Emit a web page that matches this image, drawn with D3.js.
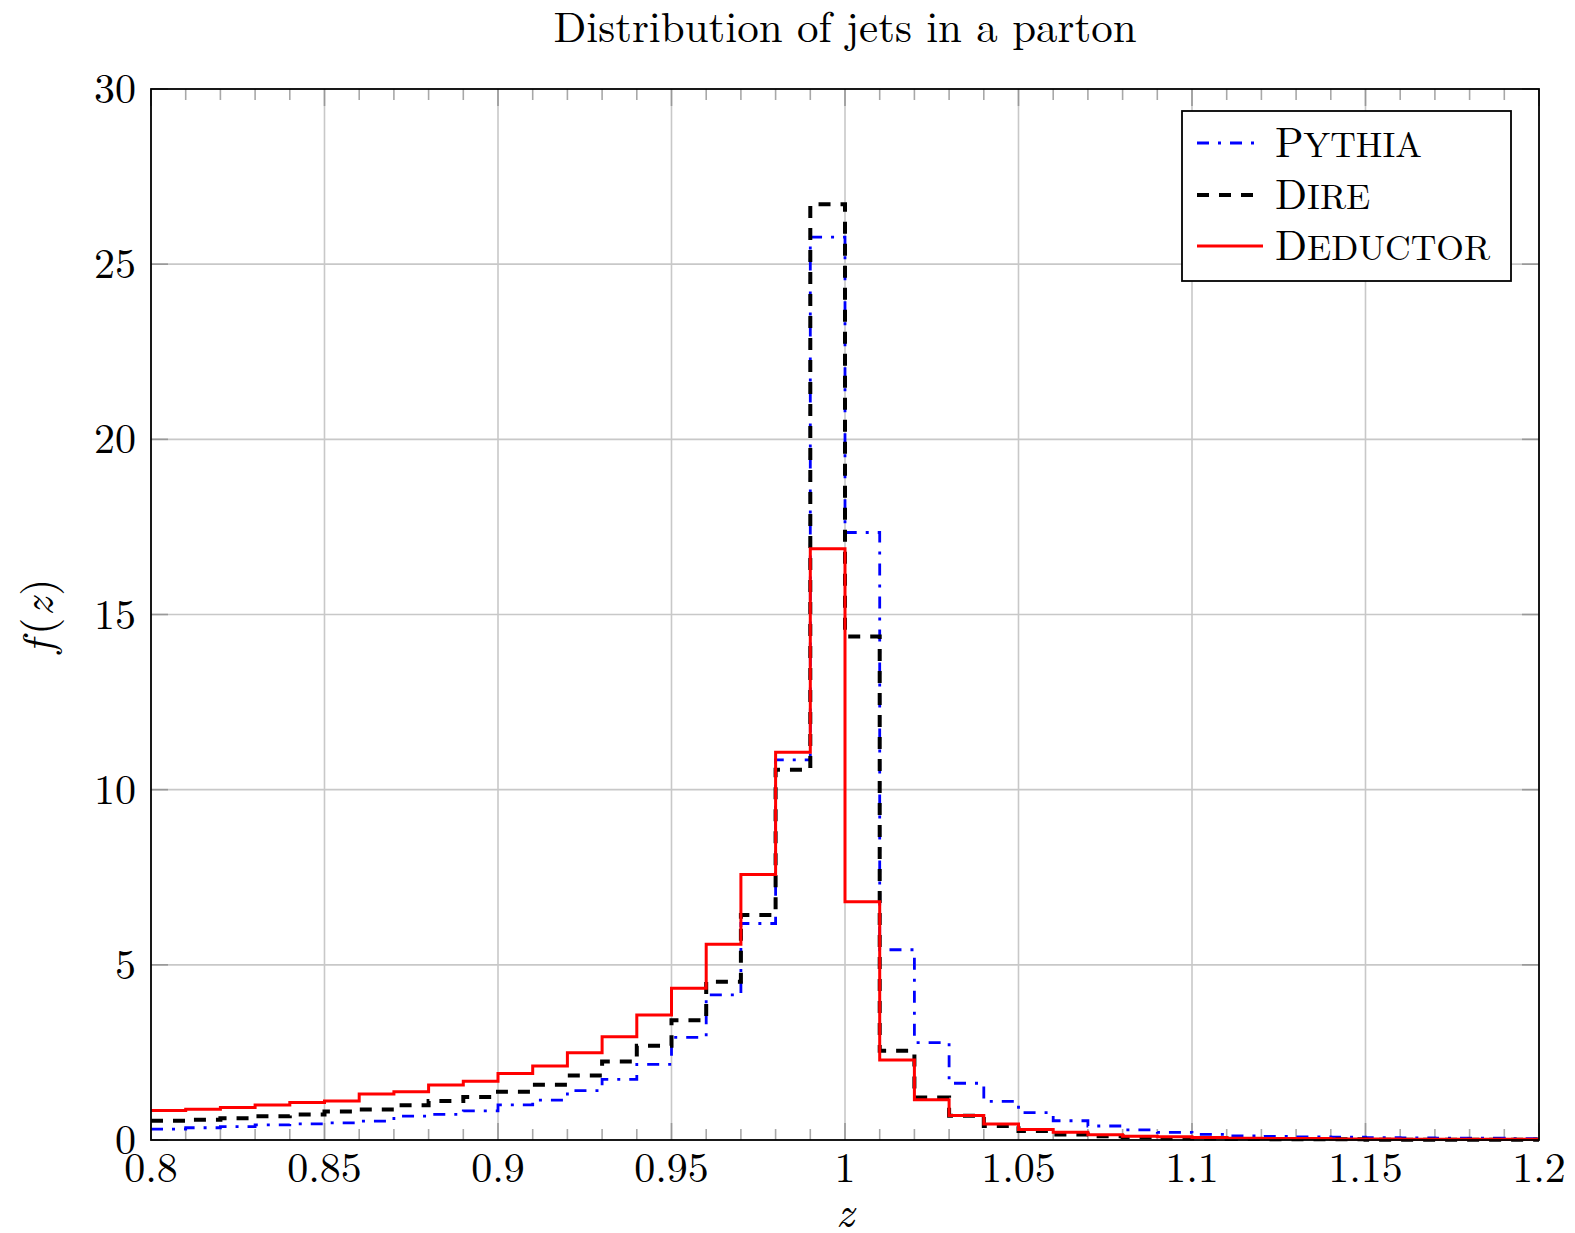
<!DOCTYPE html>
<html>
<head>
<meta charset="utf-8">
<script src="https://cdn.jsdelivr.net/npm/d3@7"></script>
<style>
  html, body { margin: 0; padding: 0; background: #fff; }
  svg { display: block; }
  text { font-family: "Latin Modern Roman", "CMU Serif", "Liberation Serif", serif; fill: #000; }
</style>
</head>
<body>
<svg id="chart" width="1575" height="1233"></svg>
<script>
// ---- data ----
const title = "Distribution of jets in a parton";
const xLabel = "z";
const binStarts = [0.80,0.81,0.82,0.83,0.84,0.85,0.86,0.87,0.88,0.89,
                   0.90,0.91,0.92,0.93,0.94,0.95,0.96,0.97,0.98,0.99,
                   1.00,1.01,1.02,1.03,1.04,1.05,1.06,1.07,1.08,1.09,
                   1.10,1.11,1.12,1.13,1.14,1.15,1.16,1.17,1.18,1.19];
const binEnd = 1.20;
const pythia = [0.31,0.35,0.38,0.43,0.46,0.49,0.54,0.68,0.73,0.83,
                1.00,1.14,1.41,1.73,2.16,2.93,4.14,6.18,10.85,25.77,
                17.34,5.43,2.78,1.62,1.10,0.78,0.55,0.40,0.29,0.22,
                0.16,0.12,0.10,0.09,0.08,0.07,0.06,0.05,0.05,0.04];
const dire = [0.55,0.58,0.62,0.68,0.73,0.81,0.87,0.99,1.11,1.23,
              1.38,1.58,1.84,2.24,2.69,3.42,4.52,6.42,10.57,26.71,
              14.37,2.55,1.21,0.69,0.40,0.26,0.16,0.11,0.08,0.05,
              0.04,0.03,0.02,0.02,0.02,0.01,0.01,0.01,0.01,0.01];
const deductor = [0.84,0.88,0.93,1.00,1.07,1.11,1.31,1.38,1.57,1.68,
                  1.90,2.11,2.49,2.95,3.57,4.33,5.59,7.58,11.07,16.88,
                  6.80,2.28,1.15,0.70,0.46,0.30,0.22,0.15,0.11,0.09,
                  0.07,0.05,0.04,0.04,0.03,0.03,0.02,0.02,0.02,0.02];
const seriesNames = ["Pythia", "Dire", "Deductor"];
const xTicks = [0.8,0.85,0.9,0.95,1,1.05,1.1,1.15,1.2];
const xTickLabels = ["0.8","0.85","0.9","0.95","1","1.05","1.1","1.15","1.2"];
const xMinorTicks = binStarts;
const yTicks = [0,5,10,15,20,25,30];
const yTickLabels = ["0","5","10","15","20","25","30"];

// ---- layout ----
const L = 151, R = 1539, T = 89, B = 1140;
const FS = 42;
const svg = d3.select("#chart");
const x = d3.scaleLinear().domain([0.8, 1.2]).range([L, R]);
const y = d3.scaleLinear().domain([0, 30]).range([B, T]);

// grid
const grid = svg.append("g");
grid.selectAll("line.vx").data(xTicks.slice(1, -1)).join("line")
  .attr("x1", d => x(d)).attr("x2", d => x(d)).attr("y1", T).attr("y2", B)
  .attr("stroke", "#c8c8c8").attr("stroke-width", 1.6);
grid.selectAll("line.hy").data(yTicks.slice(1, -1)).join("line")
  .attr("x1", L).attr("x2", R).attr("y1", d => y(d)).attr("y2", d => y(d))
  .attr("stroke", "#c8c8c8").attr("stroke-width", 1.6);

// ticks
const minors = xMinorTicks.filter(v => !xTicks.some(t => Math.abs(t - v) < 1e-9));
const tk = svg.append("g");
minors.forEach(v => {
  tk.append("line").attr("x1", x(v)).attr("x2", x(v)).attr("y1", B).attr("y2", B - 11)
    .attr("stroke", "#a8a8a8").attr("stroke-width", 1.6);
  tk.append("line").attr("x1", x(v)).attr("x2", x(v)).attr("y1", T).attr("y2", T + 11)
    .attr("stroke", "#a8a8a8").attr("stroke-width", 1.6);
});
xTicks.forEach(v => {
  tk.append("line").attr("x1", x(v)).attr("x2", x(v)).attr("y1", B).attr("y2", B - 17)
    .attr("stroke", "#999").attr("stroke-width", 1.6);
  tk.append("line").attr("x1", x(v)).attr("x2", x(v)).attr("y1", T).attr("y2", T + 17)
    .attr("stroke", "#999").attr("stroke-width", 1.6);
});
yTicks.forEach(v => {
  tk.append("line").attr("x1", L).attr("x2", L + 17).attr("y1", y(v)).attr("y2", y(v))
    .attr("stroke", "#999").attr("stroke-width", 1.6);
  tk.append("line").attr("x1", R).attr("x2", R - 17).attr("y1", y(v)).attr("y2", y(v))
    .attr("stroke", "#999").attr("stroke-width", 1.6);
});

// series
const styles = [
  {data: pythia, color: "#0000ff", width: 2.8, dash: "12 9 3 9"},
  {data: dire, color: "#000000", width: 4.0, dash: "12 10"},
  {data: deductor, color: "#ff0000", width: 3.0, dash: null}
];
const line = d3.line().x(d => x(d[0])).y(d => y(d[1])).curve(d3.curveStepAfter);
const plot = svg.append("g");
styles.forEach(s => {
  const pts = binStarts.map((b, i) => [b, s.data[i]]);
  pts.push([binEnd, s.data[s.data.length - 1]]);
  const p = plot.append("path").datum(pts).attr("d", line)
    .attr("fill", "none").attr("stroke", s.color).attr("stroke-width", s.width)
    .attr("stroke-linejoin", "miter");
  if (s.dash) p.attr("stroke-dasharray", s.dash);
});

// frame
svg.append("rect").attr("x", L).attr("y", T).attr("width", R - L).attr("height", B - T)
  .attr("fill", "none").attr("stroke", "#000").attr("stroke-width", 1.8);

// tick labels
svg.append("g").selectAll("text").data(xTicks).join("text")
  .attr("x", d => x(d)).attr("y", 1182).attr("text-anchor", "middle")
  .attr("font-size", FS).text((d, i) => xTickLabels[i]);
svg.append("g").selectAll("text").data(yTicks).join("text")
  .attr("x", 136).attr("y", d => y(d) + 14).attr("text-anchor", "end")
  .attr("font-size", FS).text((d, i) => yTickLabels[i]);

// title & axis labels
svg.append("text").attr("x", (L + R) / 2).attr("y", 42).attr("text-anchor", "middle")
  .attr("font-size", 43).text(title);
svg.append("text").attr("x", (L + R) / 2).attr("y", 1227).attr("text-anchor", "middle")
  .attr("font-size", 44).attr("font-style", "italic").text(xLabel);
const yl = svg.append("text").attr("transform", "translate(53,615) rotate(-90)")
  .attr("text-anchor", "middle").attr("font-size", 44).attr("letter-spacing", 2);
yl.append("tspan").attr("font-style", "italic").text("f");
yl.append("tspan").attr("dx", 3).text("(");
yl.append("tspan").attr("font-style", "italic").text("z");
yl.append("tspan").text(")");

// legend
const lg = svg.append("g");
lg.append("rect").attr("x", 1182).attr("y", 111).attr("width", 329).attr("height", 170)
  .attr("fill", "#fff").attr("stroke", "#000").attr("stroke-width", 1.8);
const rowY = [143, 195, 246];
styles.forEach((s, i) => {
  const ln = lg.append("line").attr("x1", 1197).attr("x2", 1263)
    .attr("y1", rowY[i]).attr("y2", rowY[i])
    .attr("stroke", s.color).attr("stroke-width", s.width);
  if (s.dash) ln.attr("stroke-dasharray", s.dash);
  const name = seriesNames[i];
  const t = lg.append("text").attr("x", 1275).attr("y", rowY[i] + 14);
  t.append("tspan").attr("font-size", FS).text(name.charAt(0));
  t.append("tspan").attr("font-size", 35.5).text(name.slice(1).toUpperCase());
});
</script>
</body>
</html>
